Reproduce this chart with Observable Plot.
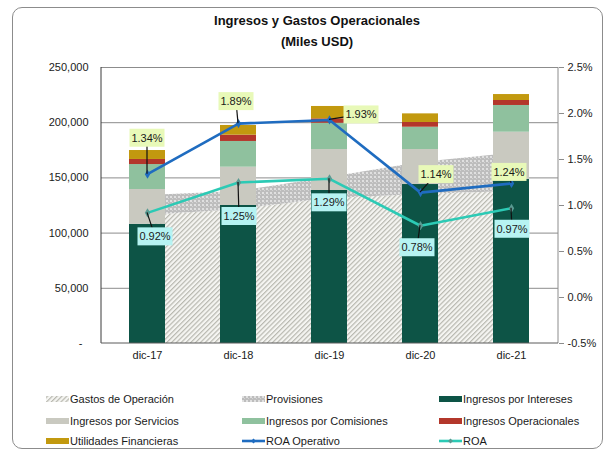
<!DOCTYPE html>
<html><head><meta charset="utf-8">
<script src="https://cdn.jsdelivr.net/npm/d3@7"></script>
<script src="https://cdn.jsdelivr.net/npm/@observablehq/plot@0.6"></script>
<style>
body{margin:0;background:#fff;font-family:"Liberation Sans",Arial,sans-serif;color:#1a1a1a;}
#wrap{position:relative;width:611px;height:450px;overflow:hidden;background:#fff;}
#frame{position:absolute;left:12px;top:7px;width:591px;height:442px;border:1px solid #8c8c8c;border-radius:10px;box-sizing:border-box;}
.title{position:absolute;left:0;width:634px;text-align:center;font-weight:bold;font-size:13px;line-height:20px;color:#111;}
#chart{position:absolute;left:0;top:0;}
.leg{position:absolute;font-size:11px;line-height:14px;white-space:nowrap;display:flex;align-items:center;}
.leg svg{margin-right:1px;}
</style></head>
<body>
<div id="wrap">
  <div id="frame"></div>
  <div id="chart"></div>
  <div class="title" style="top:11px">Ingresos y Gastos Operacionales</div>
  <div class="title" style="top:32px">(Miles USD)</div>
  <div id="legend"></div>
</div>
<script>
// ---- data ----
const categories = ["dic-17", "dic-18", "dic-19", "dic-20", "dic-21"];
const interesesData = [108000, 125000, 138600, 144000, 148600];
const serviciosData = [31500, 34700, 37100, 31700, 42800];
const comisionesData = [22600, 23300, 23800, 20200, 24200];
const operacionalesData = [4600, 5700, 4000, 4300, 4500];
const utilidadesData = [8100, 8800, 11200, 7800, 5400];
const gastosData = [115900, 121400, 131300, 135000, 137700];
const provisionesData = [18200, 16300, 19100, 29000, 34400];
const roaOperativoData = [1.34, 1.89, 1.93, 1.14, 1.24];
const roaData = [0.92, 1.25, 1.29, 0.78, 0.97];
const leftTicks = [0, 50000, 100000, 150000, 200000, 250000];
const rightTicks = [-0.5, 0, 0.5, 1.0, 1.5, 2.0, 2.5];

// ---- styling ----
const barNames = ["Ingresos por Intereses", "Ingresos por Servicios", "Ingresos por Comisiones", "Ingresos Operacionales", "Utilidades Financieras"];
const barValues = [interesesData, serviciosData, comisionesData, operacionalesData, utilidadesData];
const barColors = ["#0d5446", "#c9c9c0", "#8fc19e", "#b3372b", "#c2990f"];
const opColor = "#1f6cc0", roaColor = "#2ccab5";
const opBox = "#e8f9b8", roaBox = "#b6f3f2";
// label offsets (px) from point to label-box centre
const opOffsets = [[0, -36], [-2, -22], [32, -5], [16, -18], [-2, -11]];
const roaOffsets = [[8, 24], [1, 34], [0, 24], [-3, 22], [1, 21]];

// secondary axis mapping: -0.5%..2.5% <-> 0..250000
const yMax = 250000, pMin = -0.5, pMax = 2.5;
const toLeft = p => (p - pMin) * yMax / (pMax - pMin);
const fromLeft = v => v * (pMax - pMin) / yMax + pMin;

const barRows = barNames.flatMap((name, s) => categories.map((cat, i) => ({cat, series: name, value: barValues[s][i]})));
const areaRows = categories.map((cat, i) => ({cat, gastos: gastosData[i], total: gastosData[i] + provisionesData[i]}));
const lineRows = categories.map((cat, i) => ({cat, op: toLeft(roaOperativoData[i]), roa: toLeft(roaData[i]), opText: roaOperativoData[i].toFixed(2) + "%", roaText: roaData[i].toFixed(2) + "%"}));

function frameLines(index, scales, values, dim) {
  const g = d3.create("svg:g");
  const l = dim.marginLeft, r = dim.width - dim.marginRight, t = dim.marginTop, b = dim.height - dim.marginBottom;
  g.append("line").attr("x1", r).attr("x2", r).attr("y1", t).attr("y2", b).attr("stroke", "#8c8c8c");
  g.append("line").attr("x1", l).attr("x2", l).attr("y1", t).attr("y2", b).attr("stroke", "#3a3a3a");
  g.append("line").attr("x1", l).attr("x2", r).attr("y1", b).attr("y2", b).attr("stroke", "#5a5a5a");
  return g.node();
}

function labelMark(field, textField, offsets, boxColor) {
  return (index, scales, values, dim) => {
    const g = d3.create("svg:g").attr("font-size", 11);
    const sx = scales.x, sy = scales.y;
    const half = sx.bandwidth ? sx.bandwidth() / 2 : 0;
    lineRows.forEach((d, i) => {
      const px = sx(d.cat) + half, py = sy(d[field]);
      const [dx, dy] = offsets[i];
      const bx = px + dx, by = py + dy;
      g.append("line").attr("x1", px).attr("y1", py).attr("x2", bx).attr("y2", by).attr("stroke", "#111").attr("stroke-width", 1.2);
      g.append("rect").attr("x", bx - 17.5).attr("y", by - 9).attr("width", 35).attr("height", 18).attr("fill", boxColor);
      g.append("text").attr("x", bx).attr("y", by).attr("text-anchor", "middle").attr("dy", "0.36em").attr("fill", "#1a1a1a").text(d[textField]);
    });
    return g.node();
  };
}

const svg = Plot.plot({
  width: 611,
  height: 372,
  marginLeft: 101,
  marginRight: 53,
  marginTop: 67,
  marginBottom: 29,
  style: {fontFamily: "Liberation Sans, Arial, sans-serif", fontSize: "11px", color: "#1a1a1a", background: "transparent"},
  x: {domain: categories, paddingInner: 0.6, paddingOuter: 0.3, label: null},
  y: {domain: [0, yMax], label: null},
  color: {domain: barNames, range: barColors},
  marks: [
    Plot.gridY({ticks: leftTicks.slice(1), stroke: "#8c8c8c", strokeOpacity: 1}),
    Plot.areaY(areaRows, {x: "cat", y1: 0, y2: "gastos", fill: "url(#hatch)"}),
    Plot.areaY(areaRows, {x: "cat", y1: "gastos", y2: "total", fill: "url(#dots)"}),
    Plot.barY(barRows, {x: "cat", y: "value", fill: "series"}),
    frameLines,
    Plot.line(lineRows, {x: "cat", y: "op", stroke: opColor, strokeWidth: 2.6}),
    Plot.dot(lineRows, {x: "cat", y: "op", symbol: "diamond", r: 2.8, fill: opColor}),
    Plot.line(lineRows, {x: "cat", y: "roa", stroke: roaColor, strokeWidth: 2.6}),
    Plot.dot(lineRows, {x: "cat", y: "roa", symbol: "diamond", r: 2.8, fill: "#5a9a92"}),
    labelMark("op", "opText", opOffsets, opBox),
    labelMark("roa", "roaText", roaOffsets, roaBox),
    Plot.axisY({anchor: "left", ticks: leftTicks, tickSize: 0, tickPadding: 13, label: null,
      tickFormat: d => d === 0 ? "-\u00a0\u00a0" : d3.format(",")(d)}),
    Plot.axisY({anchor: "right", ticks: rightTicks.map(toLeft), tickSize: 5, tickPadding: 4, stroke: "#8c8c8c", label: null,
      tickFormat: v => (Math.round(fromLeft(v) * 10) / 10 + 0).toFixed(1) + "%"}),
    Plot.axisX({tickSize: 0, tickPadding: 8, label: null})
  ]
});

const defs = document.createElementNS("http://www.w3.org/2000/svg", "defs");
defs.innerHTML = `
<pattern id="hatch" patternUnits="userSpaceOnUse" width="3.4" height="3.4" patternTransform="rotate(45)">
  <rect width="3.4" height="3.4" fill="#f5f5f2"/>
  <line x1="0.6" y1="0" x2="0.6" y2="3.4" stroke="#b8b8b0" stroke-width="1.2"/>
</pattern>
<pattern id="dots" patternUnits="userSpaceOnUse" width="4" height="4">
  <rect width="4" height="4" fill="#bdbdbd"/>
  <rect x="0" y="0" width="2" height="2" fill="#e0e0e0"/>
  <rect x="2" y="2" width="1" height="1" fill="#d4d4d4"/>
</pattern>`;
svg.insertBefore(defs, svg.firstChild);
document.getElementById("chart").appendChild(svg);

// ---- legend ----
const legendItems = [
  {label: "Gastos de Operación", kind: "rect", fill: "url(#hatch)"},
  {label: "Provisiones", kind: "rect", fill: "url(#dots)"},
  {label: barNames[0], kind: "rect", fill: barColors[0]},
  {label: barNames[1], kind: "rect", fill: barColors[1]},
  {label: barNames[2], kind: "rect", fill: barColors[2]},
  {label: barNames[3], kind: "rect", fill: barColors[3]},
  {label: barNames[4], kind: "rect", fill: barColors[4]},
  {label: "ROA Operativo", kind: "line", fill: opColor},
  {label: "ROA", kind: "line", fill: roaColor}
];
const colX = [46, 242, 439], rowY = [392, 414, 434];
const leg = document.getElementById("legend");
legendItems.forEach((it, k) => {
  const div = document.createElement("div");
  div.className = "leg";
  div.style.left = colX[k % 3] + "px";
  div.style.top = rowY[Math.floor(k / 3)] + "px";
  const sw = it.kind === "rect"
    ? `<svg width="23" height="14"><rect x="0" y="4" width="23" height="6" fill="${it.fill}"/></svg>`
    : `<svg width="23" height="14"><line x1="0" y1="7" x2="23" y2="7" stroke="${it.fill}" stroke-width="2.6"/><path d="M11.5 4.5 L14 7 L11.5 9.5 L9 7 Z" fill="${k === 7 ? opColor : '#5a9a92'}"/></svg>`;
  div.innerHTML = sw + `<span>${it.label}</span>`;
  leg.appendChild(div);
});
</script>
</body></html>
